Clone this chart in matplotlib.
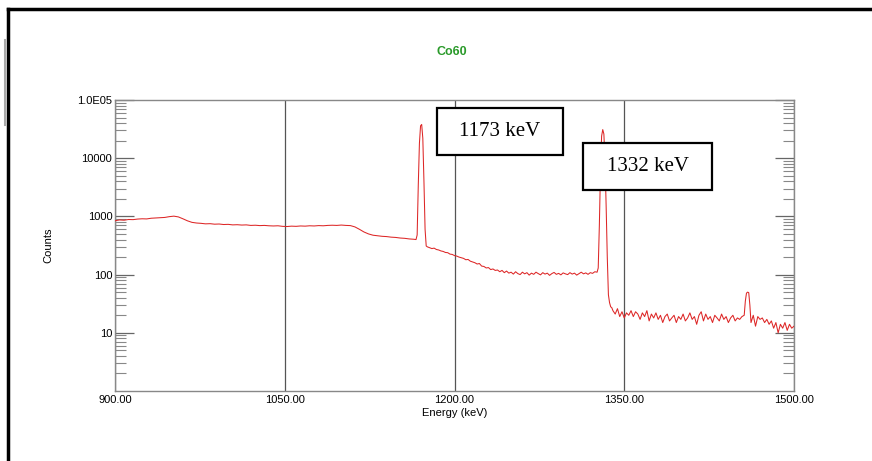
import matplotlib
matplotlib.use("Agg")
import matplotlib.pyplot as plt
from matplotlib.lines import Line2D
from matplotlib.patches import Rectangle
from matplotlib.ticker import FixedLocator, FixedFormatter, LogLocator, NullFormatter

# spectrum (energy in keV, counts)
energy = [900, 904, 908, 912, 916, 920, 924, 928, 932, 936, 940, 944, 948, 952, 956, 960,
          964, 968, 972, 976, 980, 984, 988, 992, 996, 1000, 1004, 1008, 1012, 1016, 1020,
          1024, 1028, 1032, 1036, 1040, 1044, 1048, 1052, 1056, 1060, 1064, 1068, 1072, 1076,
          1080, 1084, 1088, 1092, 1096, 1100, 1104, 1108, 1112, 1116, 1120, 1124, 1128, 1132,
          1136, 1140, 1144, 1148, 1152, 1156, 1160, 1164,
          1166, 1167, 1168, 1169, 1170, 1171, 1172, 1173, 1174, 1175, 1176,
          1178, 1180, 1182, 1184, 1186, 1188, 1190, 1192, 1194, 1196, 1198, 1200, 1202, 1204,
          1206, 1208, 1210, 1212, 1214, 1216, 1218, 1220, 1222, 1224, 1226, 1228, 1230, 1232,
          1234, 1236, 1238, 1240, 1242, 1244, 1246, 1248, 1250, 1252, 1254, 1256, 1258, 1260,
          1262, 1264, 1266, 1268, 1270, 1272, 1274, 1276, 1278, 1280, 1282, 1284, 1286, 1288,
          1290, 1292, 1294, 1296, 1298, 1300, 1302, 1304, 1306, 1308, 1310, 1312, 1314, 1316,
          1318, 1320, 1322, 1324, 1326,
          1327, 1328, 1329, 1330, 1331, 1332, 1333, 1334, 1335, 1336, 1337, 1338, 1339,
          1340, 1342, 1344, 1346, 1348, 1350, 1352, 1354, 1356, 1358, 1360, 1362, 1364, 1366,
          1368, 1370, 1372, 1374, 1376, 1378, 1380, 1382, 1384, 1386, 1388, 1390, 1392, 1394,
          1396, 1398, 1400, 1402, 1404, 1406, 1408, 1410, 1412, 1414, 1416, 1418, 1420, 1422,
          1424, 1426, 1428, 1430, 1432, 1434, 1436, 1438, 1440, 1442, 1444, 1446, 1448, 1450,
          1452, 1454, 1456, 1457, 1458, 1459, 1460, 1461, 1462, 1464, 1466, 1468, 1470, 1472,
          1474, 1476, 1478, 1480, 1482, 1484, 1486, 1488, 1490, 1492, 1494, 1496, 1498, 1500]
counts = [840, 870, 860, 885, 880, 900, 910, 905, 930, 940, 950, 960, 990, 1010, 980, 910,
          840, 790, 770, 760, 745, 750, 735, 740, 725, 730, 715, 720, 710, 715, 700,
          705, 695, 700, 690, 685, 690, 675, 670, 680, 675, 685, 680, 690, 685,
          695, 690, 700, 705, 700, 710, 700, 695, 660, 600, 540, 500, 475, 465,
          455, 450, 440, 435, 425, 420, 410, 405,
          400, 480, 3500, 18000, 36000, 38000, 22000, 4000, 600, 310, 300,
          290, 280, 285, 270, 265, 255, 250, 240, 238, 225, 222, 212, 208, 200,
          195, 190, 180, 182, 170, 165, 160, 152, 155, 140, 138, 130, 132, 122,
          125, 118, 120, 112, 118, 108, 115, 106, 110, 102, 112, 104, 100, 110,
          103, 108, 98, 106, 101, 110, 104, 99, 108, 102, 106, 97, 104, 109,
          101, 105, 99, 107, 103, 100, 108, 102, 106, 98, 104, 110, 103, 107,
          101, 108, 105, 112, 110,
          130, 700, 6000, 24000, 31000, 26000, 9000, 1500, 200, 45, 33, 28, 27,
          24, 21, 26, 19, 23, 18, 22, 20, 24, 19, 23, 21, 17, 22,
          19, 24, 16, 21, 18, 22, 17, 20, 15, 19, 21, 16, 18, 20,
          15, 19, 17, 21, 16, 18, 22, 17, 19, 14, 20, 23, 16, 21,
          17, 19, 15, 20, 18, 16, 21, 17, 19, 15, 18, 20, 16, 18,
          17, 19, 20, 35, 48, 50, 49, 30, 15, 20, 13, 19, 17, 18,
          15, 17, 14, 16, 12, 15, 10, 14, 12, 15, 11, 14, 12, 13]

x_ticks = [900, 1050, 1200, 1350, 1500]
x_labels = ["900.00", "1050.00", "1200.00", "1350.00", "1500.00"]
y_ticks = [10, 100, 1000, 10000, 100000]
y_labels = ["10", "100", "1000", "10000", "1.0E05"]

plt.rcParams['font.family'] = ['Liberation Sans', 'DejaVu Sans']

fig = plt.figure(figsize=(8.72, 4.61), dpi=100)
ax = fig.add_axes([115 / 872, 70 / 461, 679 / 872, 291 / 461])

ax.plot(energy, counts, color="#dd2626", lw=0.75, zorder=3)

ax.set_yscale("log")
ax.set_xlim(900, 1500)
ax.set_ylim(1, 100000)

ax.xaxis.set_major_locator(FixedLocator(x_ticks))
ax.xaxis.set_major_formatter(FixedFormatter(x_labels))
ax.yaxis.set_major_locator(FixedLocator(y_ticks))
ax.yaxis.set_major_formatter(FixedFormatter(y_labels))
ax.yaxis.set_minor_locator(LogLocator(base=10, subs=range(2, 10)))
ax.yaxis.set_minor_formatter(NullFormatter())

ax.tick_params(axis="x", length=0, pad=3, labelsize=8)
ax.tick_params(axis="y", which="major", direction="in", length=14, width=0.9,
               color="#666666", left=True, right=True, labelsize=8, pad=2)
ax.tick_params(axis="y", which="minor", direction="in", length=8, width=0.8,
               color="#888888", left=True, right=True)

ax.grid(axis="x", color="#555555", lw=0.9)
for s in ax.spines.values():
    s.set_color("#888888")
    s.set_linewidth(1.0)

ax.set_xlabel("Energy (keV)", fontsize=8, labelpad=2)
ax.set_ylabel("Counts", fontsize=8)
ax.yaxis.set_label_coords((53 - 115) / 679, 0.5)
fig.text(452 / 872, 1 - 52 / 461, "Co60", color="#2a9a2a", fontsize=9,
         fontweight="bold", ha="center", va="center")

# annotation boxes
boxes = [("1173 keV", 437, 108, 563, 155), ("1332 keV", 583, 143, 712, 190)]
for txt, x0, y0, x1, y1 in boxes:
    fig.patches.append(Rectangle((x0 / 872, 1 - y1 / 461), (x1 - x0) / 872, (y1 - y0) / 461,
                                 transform=fig.transFigure, facecolor="white",
                                 edgecolor="black", lw=1.6, zorder=5))
    fig.text((x0 + x1) / 2 / 872, 1 - (y0 + y1) / 2 / 461, txt, fontsize=15,
             family="Liberation Serif", ha="center", va="center", zorder=6)

# page frame
fig.add_artist(Line2D([8 / 872, 1], [1 - 9 / 461, 1 - 9 / 461], color="black", lw=2.5))
fig.add_artist(Line2D([8 / 872, 8 / 872], [0, 1 - 9 / 461], color="black", lw=2.5))
fig.add_artist(Line2D([5 / 872, 5 / 872], [1 - 40 / 461, 1 - 125 / 461], color="#aaaaaa", lw=1.5))

fig.savefig("out.png", dpi=100)
